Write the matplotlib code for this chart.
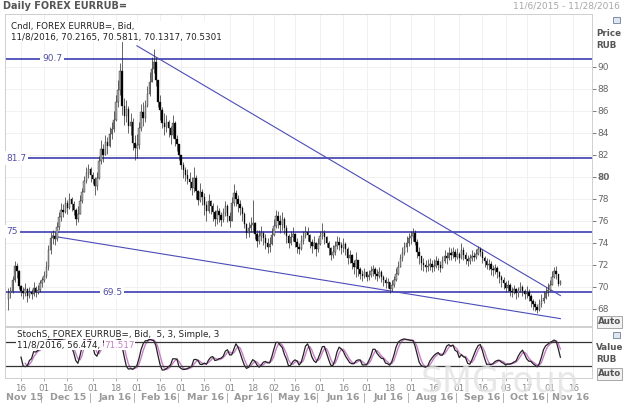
import numpy as np
import pandas as pd
import matplotlib
matplotlib.use("Agg")
import matplotlib.pyplot as plt
from matplotlib.patches import Rectangle

plt.rcParams['font.family'] = ['DejaVu Sans']

# daily candles, 11/6/2015 .. 11/8/2016 (one row per week, Mon-Fri)
first_open = 68.9
closes = [
    69.4,
    69.6, 70.6, 71.9, 71.4, 70.1,
    69.6, 69.4, 69.8, 69.2, 69.5,
    69.3, 69.9, 69.5, 69.7, 70.3,
    70.6, 71.0, 71.8, 73.3, 74.4,
    74.6, 74.3, 75.4, 76.3, 77.0,
    76.8, 77.6, 77.2, 78.0, 77.5,
    77.0, 76.2, 76.6, 77.8, 78.6,
    79.6, 80.3, 80.7, 80.2, 79.8,
    79.2, 79.9, 81.4, 82.5, 82.0,
    83.2, 82.8, 83.9, 84.3, 85.2,
    86.8, 87.9, 89.6, 86.4, 85.5,
    86.2, 84.6, 85.0, 83.1, 82.6,
    82.9, 84.4, 85.9, 85.3, 86.4,
    87.5, 88.6, 89.8, 90.4, 88.8,
    86.8, 86.1, 84.9, 84.5, 85.0,
    84.4, 83.8, 84.9, 83.4, 83.0,
    82.0, 81.1, 80.6, 80.2, 79.8,
    79.5, 79.0, 79.9, 78.7, 77.9,
    78.6, 78.2, 77.4, 76.9, 77.8,
    77.3, 76.8, 76.2, 76.9, 76.5,
    76.1, 76.7, 77.3, 76.4, 76.0,
    77.6, 78.5, 78.0, 77.5, 77.2,
    76.6, 75.7, 74.9, 75.3, 75.6,
    75.8, 74.8, 74.2, 74.6, 74.9,
    74.4, 74.0, 73.6, 73.9, 74.7,
    75.5, 76.4, 76.0, 75.6, 76.2,
    75.3, 74.6, 74.0, 74.5, 74.8,
    74.1, 73.6, 73.4, 74.2, 74.6,
    75.0, 74.7, 74.1, 73.7, 74.0,
    73.4, 73.9, 74.6, 74.9, 74.5,
    74.0, 73.5, 72.9, 73.2, 73.7,
    74.1, 73.8, 73.5, 73.9, 73.4,
    72.6, 72.9, 72.2, 71.8, 72.4,
    71.6, 71.2, 71.0, 71.3, 70.9,
    71.1, 71.4, 71.6, 71.2, 71.0,
    71.3, 70.9, 70.6, 70.3, 70.4,
    69.8, 70.2, 70.6, 71.2, 71.8,
    72.6, 73.1, 73.6, 74.0, 74.4,
    74.6, 74.9, 74.1, 73.2, 72.8,
    72.2, 72.0, 71.8, 71.9, 72.1,
    71.8, 71.9, 72.3, 72.0, 71.7,
    72.3, 72.8, 72.6, 73.1, 72.9,
    73.2, 72.7, 73.0, 72.6, 73.3,
    72.9, 72.5, 72.3, 72.6, 72.8,
    72.7, 73.0, 73.4, 73.2, 72.6,
    72.3, 72.0, 72.1, 71.6, 71.5,
    71.7, 71.3, 70.9, 70.6, 70.3,
    69.9, 70.2, 69.6, 69.5, 69.8,
    69.4, 69.7, 70.0, 69.6, 69.3,
    69.5, 69.2, 68.7, 68.4, 68.2,
    67.9, 68.4, 68.7, 69.0, 69.4,
    69.7, 70.2, 70.9, 71.4, 71.2,
    70.2165, 70.5301,
]
highs = [
    69.9,
    70.0, 71.0, 72.3, 72.2, 71.5,
    70.2, 70.0, 70.3, 69.9, 70.0,
    69.8, 70.4, 70.1, 70.2, 70.6,
    70.9, 71.4, 72.3, 73.8, 75.0,
    75.2, 75.0, 75.9, 76.8, 77.6,
    77.5, 78.2, 77.9, 78.5, 78.2,
    77.8, 77.2, 77.3, 78.3, 79.0,
    80.1, 80.9, 81.2, 80.9, 80.4,
    80.0, 80.4, 81.9, 83.3, 83.0,
    83.8, 83.6, 84.5, 85.0, 86.0,
    87.4, 88.8, 90.3, 92.4, 87.2,
    87.0, 86.4, 85.8, 85.3, 83.8,
    83.9, 85.0, 86.6, 86.8, 87.0,
    88.2, 89.5, 90.9, 91.6, 90.9,
    88.7, 87.4, 86.3, 85.8, 85.6,
    85.2, 84.6, 85.6, 85.1, 83.8,
    82.9, 82.0, 81.3, 80.9, 80.7,
    80.4, 80.0, 80.9, 80.2, 78.8,
    79.4, 78.9, 78.5, 77.8, 78.4,
    77.9, 77.6, 77.0, 77.4, 77.2,
    76.8, 77.2, 77.8, 77.5, 76.8,
    78.2, 79.3, 78.8, 78.3, 77.9,
    77.3, 76.8, 75.8, 75.9, 76.3,
    77.9, 75.9, 75.2, 75.2, 75.5,
    75.1, 74.8, 74.4, 74.5, 75.3,
    76.2, 77.0, 76.9, 76.5, 76.8,
    76.3, 75.6, 74.8, 75.1, 75.4,
    74.9, 74.4, 74.0, 74.7, 75.1,
    75.5, 75.4, 74.8, 74.3, 74.6,
    74.1, 74.4, 75.1, 75.8, 75.2,
    74.6, 74.2, 73.6, 73.8, 74.2,
    74.6, 74.5, 74.1, 74.4, 74.1,
    73.6, 73.3, 73.0, 72.4, 73.2,
    72.3, 71.8, 71.5, 71.7, 71.4,
    71.5, 71.9, 72.0, 71.8, 71.6,
    71.8, 71.5, 71.1, 70.9, 70.8,
    70.4, 70.6, 71.0, 71.7, 72.3,
    73.0, 73.6, 74.1, 74.6, 74.9,
    75.1, 75.3, 75.2, 74.3, 73.6,
    72.8, 72.6, 72.4, 72.5, 72.6,
    72.4, 72.5, 72.8, 72.6, 72.3,
    72.8, 73.3, 73.2, 73.6, 73.5,
    73.6, 73.4, 73.5, 73.2, 74.0,
    73.6, 73.2, 72.9, 73.0, 73.3,
    73.2, 73.4, 73.7, 73.6, 73.4,
    72.8, 72.6, 72.5, 72.3, 72.0,
    72.1, 71.9, 71.4, 71.1, 70.9,
    70.5, 70.6, 70.3, 70.0, 70.2,
    69.9, 70.0, 70.4, 70.2, 69.8,
    70.1, 69.8, 69.3, 68.9, 68.7,
    68.4, 68.9, 69.3, 69.6, 70.0,
    70.3, 70.6, 71.4, 71.8, 71.9,
    71.2, 70.5811,
]
lows = [
    67.9,
    69.0, 69.4, 70.4, 70.8, 69.8,
    69.2, 68.9, 69.2, 68.6, 69.0,
    68.9, 69.2, 69.1, 69.3, 69.5,
    70.0, 70.4, 70.8, 71.5, 73.0,
    73.9, 73.8, 74.2, 75.2, 76.0,
    76.3, 76.7, 76.6, 77.1, 76.9,
    76.5, 75.6, 75.9, 76.7, 77.6,
    78.9, 79.4, 79.9, 79.5, 79.3,
    78.3, 78.8, 79.8, 81.2, 81.3,
    82.2, 82.1, 82.7, 83.4, 84.1,
    85.1, 86.3, 87.4, 85.6, 84.7,
    85.0, 84.0, 83.8, 82.4, 81.5,
    81.7, 82.5, 84.2, 84.6, 85.0,
    86.3, 87.3, 88.6, 89.4, 88.2,
    86.3, 85.2, 84.4, 83.8, 84.1,
    83.6, 83.0, 83.5, 82.8, 82.3,
    81.5, 80.7, 79.9, 79.6, 79.3,
    78.8, 78.3, 78.6, 78.0, 77.4,
    77.7, 77.4, 76.5, 76.0, 76.7,
    76.6, 76.0, 75.5, 75.7, 75.9,
    75.5, 75.9, 76.4, 75.9, 75.4,
    76.0, 77.3, 77.3, 76.8, 76.5,
    76.0, 75.3, 74.4, 74.5, 75.0,
    75.0, 74.3, 73.6, 73.9, 74.2,
    73.8, 73.4, 73.1, 73.2, 73.8,
    74.6, 75.3, 75.3, 74.9, 75.2,
    74.8, 74.0, 73.5, 73.8, 74.2,
    73.6, 73.1, 73.0, 73.3, 73.9,
    74.4, 74.2, 73.5, 73.1, 73.4,
    72.8, 73.2, 73.8, 74.3, 73.9,
    73.6, 72.9, 72.4, 72.6, 72.9,
    73.4, 73.3, 73.0, 73.2, 72.9,
    72.1, 72.2, 71.6, 71.2, 70.9,
    71.0, 70.7, 70.5, 70.8, 70.5,
    70.6, 70.9, 71.0, 70.7, 70.5,
    70.8, 70.4, 70.1, 69.9, 69.9,
    69.4, 69.6, 70.0, 70.5, 71.1,
    71.8, 72.3, 72.9, 73.2, 73.7,
    73.9, 74.2, 73.8, 72.6, 72.1,
    71.5, 71.4, 71.3, 71.4, 71.5,
    71.3, 71.4, 71.7, 71.5, 71.3,
    71.7, 72.2, 72.1, 72.4, 72.4,
    72.6, 72.3, 72.5, 72.2, 72.5,
    72.4, 72.1, 71.9, 72.1, 72.3,
    72.3, 72.5, 72.9, 72.8, 72.2,
    71.8, 71.6, 71.5, 71.1, 71.0,
    71.2, 70.8, 70.3, 70.0, 69.8,
    69.5, 69.6, 69.2, 69.1, 69.3,
    68.9, 69.1, 69.5, 69.2, 68.9,
    69.0, 68.7, 68.2, 67.9, 67.8,
    67.6, 67.8, 68.2, 68.5, 68.9,
    69.2, 69.6, 70.2, 70.8, 70.7,
    70.1, 70.1317,
]

# horizontal levels and trend lines drawn on the chart
levels = [90.7, 81.7, 75.0, 69.5]
level_labels = ["90.7", "81.7", "75", "69.5"]
upper_trend_dates = ["2016-02-01", "2016-11-08"]
upper_trend_prices = [91.9, 69.2]
lower_trend_dates = ["2015-12-07", "2016-11-08"]
lower_trend_prices = [74.6, 67.1]

tick_dates = ["2015-11-16", "2015-12-01", "2015-12-16", "2016-01-01", "2016-01-18",
              "2016-02-01", "2016-02-16", "2016-03-01", "2016-03-16", "2016-04-01",
              "2016-04-18", "2016-05-02", "2016-05-16", "2016-06-01", "2016-06-16",
              "2016-07-01", "2016-07-18", "2016-08-01", "2016-08-16", "2016-09-01",
              "2016-09-16", "2016-10-03", "2016-10-17", "2016-11-01", "2016-11-16"]
tick_labels = ["16", "01", "16", "01", "18", "01", "16", "01", "16", "01", "18", "02",
               "16", "01", "16", "01", "18", "01", "16", "01", "16", "03", "17", "01", "16"]
month_starts = ["2015-11-01", "2015-12-01", "2016-01-01", "2016-02-01", "2016-03-01",
                "2016-04-01", "2016-05-01", "2016-06-01", "2016-07-01", "2016-08-01",
                "2016-09-01", "2016-10-01", "2016-11-01"]
month_labels = ["Nov 15", "Dec 15", "Jan 16", "Feb 16", "Mar 16", "Apr 16", "May 16",
                "Jun 16", "Jul 16", "Aug 16", "Sep 16", "Oct 16", "Nov 16"]

closes = np.array(closes)
opens = np.r_[first_open, closes[:-1]]
highs = np.maximum(np.array(highs), np.maximum(opens, closes))
lows = np.minimum(np.array(lows), np.minimum(opens, closes))
n = len(closes)
x = np.arange(n)

cal = pd.bdate_range("2015-11-06", "2016-11-30")
def pos(dates):
    return cal.searchsorted(pd.to_datetime(dates))

# slow stochastic 5,3,3
hh = pd.Series(highs).rolling(5).max()
ll = pd.Series(lows).rolling(5).min()
fast_k = 100 * (pd.Series(closes) - ll) / (hh - ll)
slow_k = fast_k.rolling(3).mean()
slow_d = slow_k.rolling(3).mean()

W, H = 623, 403
fig = plt.figure(figsize=(W / 100, H / 100), dpi=100)
def box(l, t, r, b):
    return [l / W, 1 - b / H, (r - l) / W, (b - t) / H]
def fx(px):
    return px / W
def fy(py):
    return 1 - py / H

ax = fig.add_axes(box(5, 14, 592, 326))
ax2 = fig.add_axes(box(5, 327, 592, 378))
xlim = (-1.6, 277.0)
blue = "#4c4cb8"

# candles
up = closes >= opens
ax.vlines(x, lows, highs, color="#2a2a2a", lw=0.5, zorder=3)
ax.bar(x, np.maximum(np.abs(closes - opens), 0.06), bottom=np.minimum(opens, closes),
       width=0.7, color=np.where(up, "#a8a8a8", "black"), edgecolor="#1a1a1a", lw=0.25, zorder=4)

# levels with their labels sitting on the line
label_px = [52, 16, 12, 112]
for lv, lab, px in zip(levels, level_labels, label_px):
    ax.axhline(lv, color=blue, lw=1.3, zorder=2)
    ax.text(6 + (px - 21) / 2.107, lv, lab, color="#5050a8", fontsize=6.5, ha="center",
            va="center", zorder=5, bbox=dict(facecolor="white", edgecolor="none", pad=1.5))

ax.plot(pos(upper_trend_dates), upper_trend_prices, color=blue, lw=0.8, zorder=2)
ax.plot(pos(lower_trend_dates), lower_trend_prices, color=blue, lw=0.8, zorder=2)

ax.set_xlim(*xlim)
ax.set_ylim(66.43, 94.79)
ax.yaxis.tick_right()
ax.set_yticks(np.arange(68, 91, 2))
ax.tick_params(axis="y", labelsize=6.5, colors="#666666", length=3, pad=1, width=0.6)
for t in ax.get_yticklabels():
    if t.get_text() == "80":
        t.set_fontweight("bold")
ax.set_xticks(pos(tick_dates))
ax.tick_params(axis="x", labelbottom=False, length=0)
ax.grid(color="#efefef", lw=0.6, zorder=0)
for s in ax.spines.values():
    s.set_color("#cfcfcf")
    s.set_linewidth(0.7)

ax.text(0.01, 0.975, "Cndl, FOREX EURRUB=, Bid,\n11/8/2016, 70.2165, 70.5811, 70.1317, 70.5301",
        transform=ax.transAxes, fontsize=6.3, color="#222222", va="top", ha="left",
        linespacing=1.25, zorder=6, bbox=dict(facecolor="white", edgecolor="none", pad=0.5))

# stochastic panel
ax2.plot(x, slow_d, color="#c77ec7", lw=1.0)
ax2.plot(x, slow_k, color="#222222", lw=0.9)
ax2.axhline(80, color="#333333", lw=0.9)
ax2.axhline(20, color="#333333", lw=0.9)
ax2.set_xlim(*xlim)
ax2.set_ylim(-9.6, 116.3)
ax2.set_yticks([])
ax2.set_xticks(pos(tick_dates), tick_labels)
ax2.tick_params(axis="x", labelsize=6.3, colors="#8a8a8a", length=2, pad=2, width=0.5)
ax2.grid(axis="x", color="#efefef", lw=0.6)
for s in ax2.spines.values():
    s.set_color("#cfcfcf")
    s.set_linewidth(0.7)

ax2.text(0.02, 0.86, "StochS, FOREX EURRUB=, Bid,  5, 3, Simple, 3", transform=ax2.transAxes,
         fontsize=6.3, color="#222222", va="center", ha="left",
         bbox=dict(facecolor="white", edgecolor="none", pad=0.3))
stoch_val = ax2.text(0.02, 0.64, "11/8/2016, 56.474, ", transform=ax2.transAxes, fontsize=6.3,
                     color="#222222", va="center", ha="left",
                     bbox=dict(facecolor="white", edgecolor="none", pad=0.3))
ax2.annotate("71.517", xy=(1, 0.5), xycoords=stoch_val, xytext=(1, 0),
             textcoords="offset points", fontsize=6.3, color="#c77ec7", va="center", ha="left",
             bbox=dict(facecolor="white", edgecolor="none", pad=0.3))

# month row under the date ticks
starts = list(pos(month_starts[1:]))
bounds = [xlim[0]] + starts + [xlim[1]]
for i, lab in enumerate(month_labels):
    mid = (bounds[i] + bounds[i + 1]) / 2
    ax2.text(mid, -0.39, lab, transform=ax2.get_xaxis_transform(), fontsize=6.8,
             fontweight="bold", color="#9a9a9a", ha="center", va="center")
for s in starts:
    ax2.text(s - 1.2, -0.39, "|", transform=ax2.get_xaxis_transform(), fontsize=7,
             color="#9a9a9a", ha="center", va="center")

# header and side captions
fig.text(fx(3), fy(6), "Daily FOREX EURRUB=", fontsize=7, fontweight="bold",
         color="#555555", va="center", ha="left")
fig.text(fx(513), fy(6), "11/6/2015 - 11/28/2016 (GMT)", fontsize=6.5, color="#a8a8a8",
         va="center", ha="left")
for py, lab in ((34, "Price"), (45, "RUB"), (348, "Value"), (360, "RUB")):
    fig.text(fx(596), fy(py), lab, fontsize=6.3, fontweight="bold", color="#555555",
             va="center", ha="left")
for py in (322, 374):
    fig.text(fx(598), fy(py), "Auto", fontsize=6.3, fontweight="bold", color="#555555",
             va="center", ha="left",
             bbox=dict(facecolor="#f2f2f2", edgecolor="#9a9a9a", lw=0.6, pad=0.8))
for py in (17, 332):
    fig.patches.append(Rectangle((fx(613), fy(py + 6)), 7 / W, 6 / H, transform=fig.transFigure,
                                 facecolor="#dfe6f0", edgecolor="#6f7f99", lw=0.6))

# faint watermark
fig.text(fx(500), fy(382), "SMGroup", fontsize=25, color="#e3e3e3", ha="center", va="center",
         alpha=0.8, zorder=0)

fig.savefig("out.png", dpi=100)
